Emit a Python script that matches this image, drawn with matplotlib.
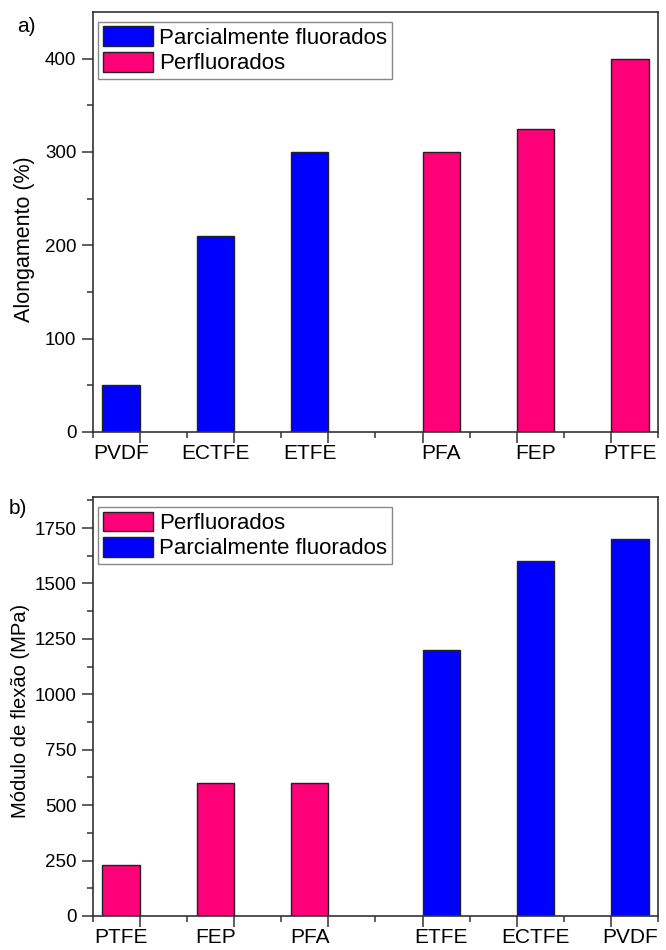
import numpy as np
import matplotlib
matplotlib.use("Agg")
import matplotlib.pyplot as plt

plt.rcParams["font.family"] = ["Liberation Sans", "DejaVu Sans"]

# Dados - a) alongamento
nomes_a = ["PVDF", "ECTFE", "ETFE", "PFA", "FEP", "PTFE"]
parc_a = [50, 210, 300]      # parcialmente fluorados
perf_a = [300, 325, 400]     # perfluorados

# Dados - b) modulo de flexao
nomes_b = ["PTFE", "FEP", "PFA", "ETFE", "ECTFE", "PVDF"]
perf_b = [228, 600, 600]
parc_b = [1200, 1600, 1700]

AZUL = "#0000FF"
ROSA = "#FF0078"
LARG = 0.4

fig = plt.figure(figsize=(6.66, 9.5), dpi=100)
ax1 = fig.add_axes([0.1396, 0.5453, 0.8483, 0.4421])
ax2 = fig.add_axes([0.1396, 0.0358, 0.8483, 0.4410])


def painel(ax, nomes, v1, c1, l1, v2, c2, l2, ymax, ystep,
           ylabel, ylsize, ylx, yly):
    pos1 = np.arange(1, len(v1) + 1)
    pos2 = np.arange(len(v1) + 1, len(v1) + len(v2) + 1)
    ax.bar(pos1 - LARG / 2, v1, width=LARG, color=c1, edgecolor="#222222",
           linewidth=1.0, label=l1)
    ax.bar(pos2 + LARG / 2, v2, width=LARG, color=c2, edgecolor="#222222",
           linewidth=1.0, label=l2)
    ax.set_xlim(0.5, 6.5)
    ax.set_ylim(0, ymax)

    # rotulos no centro das barras
    centros = list(pos1 - LARG / 2) + list(pos2 + LARG / 2)
    ax.set_xticks(centros)
    ax.set_xticklabels(nomes, fontsize=15)
    ax.tick_params(axis="x", length=0, pad=9)

    # marcas do eixo x (inteiros e meios)
    sec = ax.secondary_xaxis("bottom")
    sec.set_xticks(np.arange(1, 7))
    sec.set_xticks(np.arange(0.5, 7, 1.0), minor=True)
    sec.tick_params(axis="x", which="major", length=8, width=1.1,
                    labelbottom=False, color="#333333")
    sec.tick_params(axis="x", which="minor", length=4, width=1.1,
                    color="#333333")
    sec.spines["bottom"].set_visible(False)

    ax.set_yticks(np.arange(0, ymax, ystep))
    ax.set_yticks(np.arange(ystep / 2, ymax, ystep), minor=True)
    ax.tick_params(axis="y", which="major", length=8, width=1.1, pad=4,
                   labelsize=13.5, color="#333333")
    ax.tick_params(axis="y", which="minor", length=4, width=1.1,
                   color="#333333")
    ax.set_ylabel(ylabel, fontsize=ylsize)
    ax.yaxis.set_label_coords(ylx, yly)

    for s in ax.spines.values():
        s.set_linewidth(1.2)
        s.set_color("#333333")

    leg = ax.legend(loc="upper left", bbox_to_anchor=(0.009, 0.976),
                    borderaxespad=0, fontsize=16, fancybox=False,
                    frameon=True, edgecolor="#888888", framealpha=1,
                    handlelength=2.25, handleheight=1.0, labelspacing=0.12,
                    handletextpad=0.3, borderpad=0.2)
    leg.get_frame().set_linewidth(1.0)


painel(ax1, nomes_a, parc_a, AZUL, "Parcialmente fluorados",
       perf_a, ROSA, "Perfluorados", 450, 100,
       "Alongamento (%)", 15.5, -0.102, 0.46)
painel(ax2, nomes_b, perf_b, ROSA, "Perfluorados",
       parc_b, AZUL, "Parcialmente fluorados", 1890, 250,
       "Módulo de flexão (MPa)", 14.5, -0.112, 0.49)

fig.text(26 / 666, 1 - 26 / 950, "a)", fontsize=15, ha="center", va="center")
fig.text(18 / 666, 1 - 508 / 950, "b)", fontsize=15, ha="center", va="center")

fig.savefig("out.png", dpi=100)
